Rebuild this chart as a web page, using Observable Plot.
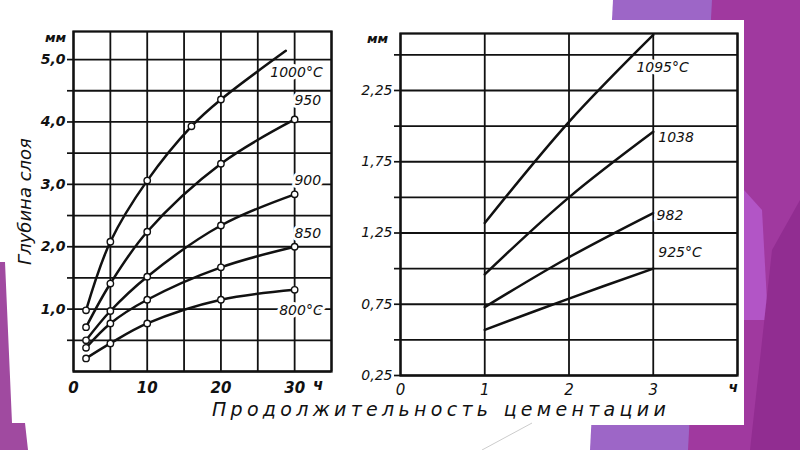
<!DOCTYPE html>
<html><head><meta charset="utf-8">
<script src="https://cdn.jsdelivr.net/npm/d3@7"></script>
<script src="https://cdn.jsdelivr.net/npm/@observablehq/plot@0.6"></script>
<style>
body{margin:0;background:#fff;}
#wrap{position:relative;width:800px;height:450px;overflow:hidden;}
#bg{position:absolute;left:0;top:0;}
#left{position:absolute;left:0;top:0;}
#right{position:absolute;left:340px;top:0;}
#left svg,#right svg{overflow:visible;}
#xtitle{position:absolute;left:212px;top:398px;white-space:nowrap;font:italic 19px "DejaVu Sans";letter-spacing:4.3px;word-spacing:1px;color:#111;}
</style></head><body>
<div id="wrap">
<svg id="bg" width="800" height="450">
  <rect x="0" y="0" width="800" height="450" fill="#fff"/>
  <polygon points="613,0 800,0 800,450 590,450" fill="#9d66c7"/>
  <polygon points="712,0 800,0 800,450 688,450" fill="#a0399f"/>
  <polygon points="744,190 762,210 768,320 744,320" fill="#b255c6"/>
  <polygon points="772,250 800,200 800,450 750,450" fill="#912d91"/>
  <rect x="10" y="20" width="734" height="405" fill="#fff"/>
  <polygon points="0,262 5,262 12,423 25,423 28,450 0,450" fill="#a04aa0"/>
  <line x1="482" y1="450" x2="532" y2="423" stroke="#ccc" stroke-width="1"/>
</svg>
<div id="left"></div><div id="right"></div>
<div id="xtitle">Продолжительность цементации</div>
</div>
<script>
// ---- Left chart data (hours, mm) ----
const hours1000 = [1.7, 5, 10, 16, 20, 28.8];
const depth1000 = [0.98, 2.08, 3.06, 3.93, 4.36, 5.14];
const marker1000 = [true, true, true, true, true, false];
const hoursLeft = [1.7, 5, 10, 20, 30];
const depth950 = [0.71, 1.41, 2.24, 3.33, 4.04];
const depth900 = [0.50, 0.97, 1.52, 2.34, 2.84];
const depth850 = [0.38, 0.77, 1.15, 1.67, 2.00];
const depth800 = [0.21, 0.45, 0.77, 1.15, 1.31];
const leftLabels = ["1000°C", "950", "900", "850", "800°C"];
const leftLabelX = [33.8, 33.6, 33.6, 33.6, 33.8];
const leftLabelY = [4.79, 4.34, 3.06, 2.21, 0.98];
const leftXTicks = [0, 10, 20, 30];
const leftYTicks = [1, 2, 3, 4, 5];

// ---- Right chart data (hours, mm) ----
const hoursRight = [1, 2, 3];
const depth1095 = [1.32, 2.03, 2.64];
const depth1038 = [0.96, 1.50, 1.96];
const depth982 = [0.73, 1.08, 1.39];
const depth925 = [0.57, 0.79, 1.00];
const rightLabels = ["1095°C", "1038", "982", "925°C"];
const rightLabelX = [2.8, 3.06, 3.04, 3.06];
const rightLabelY = [2.41, 1.92, 1.37, 1.11];
const rightXTicks = [0, 1, 2, 3];
const rightYTicks = [0.25, 0.75, 1.25, 1.75, 2.25];

const unitY = "мм";
const unitX = "ч";
const titleY = "Глубина слоя";

const FONT = "DejaVu Sans";
const INK = "#111";

function series(name, hs, ds, marks) {
  return hs.map((h, i) => ({name, h, d: ds[i], dot: marks ? marks[i] : true}));
}
const leftData = [
  ...series("1000", hours1000, depth1000, marker1000),
  ...series("950", hoursLeft, depth950),
  ...series("900", hoursLeft, depth900),
  ...series("850", hoursLeft, depth850),
  ...series("800", hoursLeft, depth800)
];
const rightData = [
  ...series("1095", hoursRight, depth1095),
  ...series("1038", hoursRight, depth1038),
  ...series("982", hoursRight, depth982),
  ...series("925", hoursRight, depth925)
];
const leftLab = leftLabels.map((t, i) => ({t, x: leftLabelX[i], y: leftLabelY[i]}));
const rightLab = rightLabels.map((t, i) => ({t, x: rightLabelX[i], y: rightLabelY[i]}));
const comma = (d, n) => d.toFixed(n).replace(".", ",");

const gridStyle = {stroke: INK, strokeOpacity: 1, strokeWidth: 1.8};

const left = Plot.plot({
  width: 345, height: 400,
  marginLeft: 73, marginRight: 14, marginTop: 31, marginBottom: 29,
  x: {domain: [0, 35]},
  y: {domain: [0, 5.45]},
  style: {fontFamily: FONT, fontStyle: "italic", fontSize: "14px", color: INK, background: "transparent"},
  marks: [
    Plot.gridX(d3.range(0, 36, 5), gridStyle),
    Plot.gridY(d3.range(0, 5.01, 0.5), gridStyle),
    Plot.axisY(d3.range(0.5, 5.01, 0.5), {tickSize: 6, tickPadding: 2, stroke: INK, strokeWidth: 1.7, fill: INK,
      tickFormat: d => leftYTicks.includes(d) ? comma(d, 1) : "", label: null, fontSize: 14, fontWeight: "bold"}),
    Plot.axisX(leftXTicks, {tickSize: 0, tickPadding: 11, label: null, fontSize: 15, fontWeight: "bold", fill: INK}),
    Plot.frame({stroke: INK, strokeWidth: 2.3}),
    Plot.text([unitX], {x: () => 33.2, frameAnchor: "bottom", dy: 18, fontSize: 15, fontWeight: "bold"}),
    Plot.text([unitY], {frameAnchor: "top-left", textAnchor: "middle", lineAnchor: "middle", dx: -18, dy: 6, fontSize: 13, fontWeight: "bold"}),
    Plot.text([titleY], {frameAnchor: "left", textAnchor: "middle", lineAnchor: "middle", rotate: -90, dx: -48, fontSize: 18}),
    Plot.line(leftData, {x: "h", y: "d", z: "name", curve: "catmull-rom", stroke: INK, strokeWidth: 2.5}),
    Plot.dot(leftData.filter(d => d.dot), {x: "h", y: "d", r: 3.2, fill: "white", stroke: INK, strokeWidth: 1.4}),
    Plot.text(leftLab, {x: "x", y: "y", text: "t", textAnchor: "end", fontSize: 14, fill: INK, stroke: "white", strokeWidth: 6})
  ]
});
document.getElementById("left").append(left);

const right = Plot.plot({
  width: 410, height: 400,
  marginLeft: 60, marginRight: 13, marginTop: 33, marginBottom: 25,
  x: {domain: [0, 4]},
  y: {domain: [0.25, 2.65]},
  style: {fontFamily: FONT, fontStyle: "italic", fontSize: "14px", color: INK, background: "transparent"},
  marks: [
    Plot.gridX(d3.range(0, 4.01, 1), gridStyle),
    Plot.gridY(d3.range(0.25, 2.51, 0.25), gridStyle),
    Plot.axisY(d3.range(0.25, 2.51, 0.25), {tickSize: 6, tickPadding: 2, stroke: INK, strokeWidth: 1.7, fill: INK,
      tickFormat: d => rightYTicks.some(t => Math.abs(t - d) < 1e-9) ? comma(d, 2) : "", label: null, fontSize: 14}),
    Plot.axisX(rightXTicks, {tickSize: 0, tickPadding: 9, label: null, fontSize: 15, fill: INK}),
    Plot.frame({stroke: INK, strokeWidth: 2.3}),
    Plot.text([unitX], {x: () => 3.95, frameAnchor: "bottom", dy: 16, fontSize: 14, fontWeight: "bold"}),
    Plot.text([unitY], {frameAnchor: "top-left", textAnchor: "middle", lineAnchor: "middle", dx: -23, dy: 5, fontSize: 13, fontWeight: "bold"}),
    Plot.line(rightData, {x: "h", y: "d", z: "name", curve: "catmull-rom", stroke: INK, strokeWidth: 2.5}),
    Plot.text(rightLab, {x: "x", y: "y", text: "t", textAnchor: "start", fontSize: 14, fill: INK, stroke: "white", strokeWidth: 6})
  ]
});
document.getElementById("right").append(right);
</script>
</body></html>
